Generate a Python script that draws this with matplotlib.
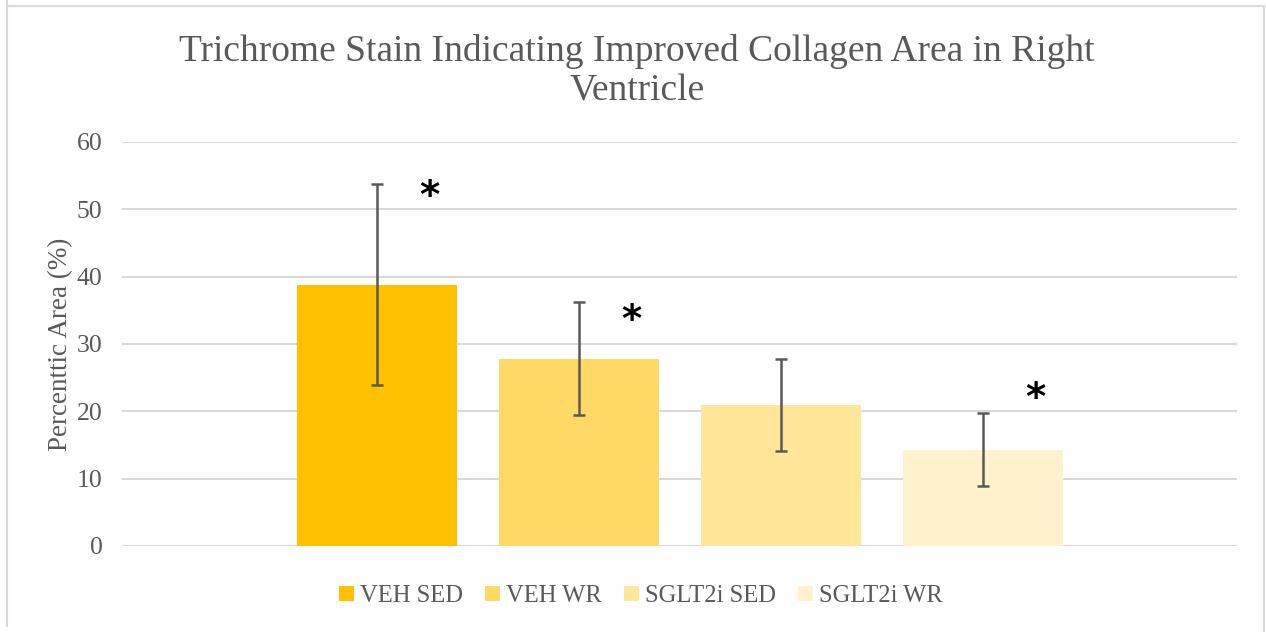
import matplotlib
matplotlib.use("Agg")
import matplotlib.pyplot as plt
from matplotlib.patches import Patch
from matplotlib.lines import Line2D

plt.rcParams['font.family'] = ['Liberation Serif', 'DejaVu Serif']

groups = ["VEH SED", "VEH WR", "SGLT2i SED", "SGLT2i WR"]
means = [38.8, 27.8, 20.9, 14.3]
errors = [14.9, 8.4, 6.8, 5.4]
colors = ["#FFC000", "#FFD966", "#FFE699", "#FFF2CC"]
significant = [True, True, False, True]
star_heights = [51.9, 33.4, None, 21.8]
yticks = [0, 10, 20, 30, 40, 50, 60]

W, H = 1266, 632
fig = plt.figure(figsize=(W / 100, H / 100), dpi=100)
ax = fig.add_axes([122 / W, 1 - 546 / H, (1237 - 122) / W, (546 - 142) / H])

x = list(range(len(groups)))
ax.bar(x, means, width=0.792, color=colors, zorder=2)
ax.errorbar(x, means, yerr=errors, fmt='none', ecolor='#595959', elinewidth=1.8,
            capsize=4.5, capthick=1.8, zorder=3)

for xi, s, sh in zip(x, significant, star_heights):
    if s:
        ax.text(xi + 0.26, sh, "*", ha='center', va='center', fontsize=28,
                fontweight='bold', family='DejaVu Sans', color='black', zorder=4)

ax.set_xlim(-1.262, 4.257)
ax.set_ylim(0, 60)
ax.set_yticks(yticks)
ax.set_xticks([])
ax.yaxis.grid(True, color='#D9D9D9', linewidth=1.5, zorder=0)
ax.set_axisbelow(True)
for sp in ax.spines.values():
    sp.set_visible(False)
ax.tick_params(axis='y', length=0, pad=14, labelsize=18.5, labelcolor='#595959')
ax.set_ylabel("Percenttic Area (%)", fontsize=19.5, color='#595959', labelpad=3)

fig.text(637 / W, 1 - 71 / H,
         "Trichrome Stain Indicating Improved Collagen Area in Right\nVentricle",
         ha='center', va='center', fontsize=27, color='#595959', linespacing=1.2)

handles = [Patch(facecolor=c, edgecolor='none') for c in colors]
fig.legend(handles, groups, loc='center', bbox_to_anchor=(641 / W, 1 - 596 / H), ncol=4,
           frameon=False, fontsize=17.7, handlelength=0.6, handleheight=0.6,
           handletextpad=0.25, columnspacing=0.9, labelcolor='#595959')

# outer chart border
for coords in [([7, 7], [0, 626]), ([7, 1264], [6, 6]), ([1264, 1264], [6, 632])]:
    fig.add_artist(Line2D([c / W for c in coords[0]], [1 - c / H for c in coords[1]],
                          color='#D9D9D9', linewidth=1.5, transform=fig.transFigure))

fig.savefig("out.png", dpi=100)
